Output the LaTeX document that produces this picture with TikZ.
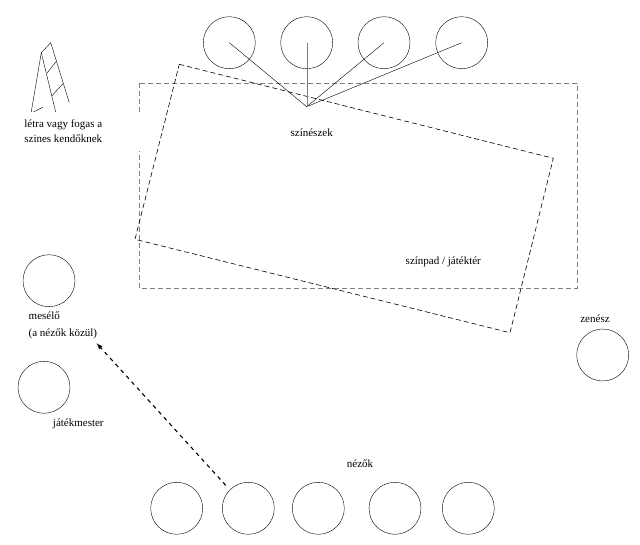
\documentclass[tikz,border=0pt]{standalone}
\usepackage{fontspec}
\setmainfont{Liberation Serif}
\begin{document}
\begin{tikzpicture}[x=1pt,y=-1pt,
  person/.style={draw,circle,minimum size=52pt,inner sep=0pt},
  lbl/.style={font=\rmfamily\fontsize{11}{15}\selectfont,inner sep=1pt}]
\useasboundingbox (0,0) rectangle (640,545);
% stage areas
\draw[gray,line width=0.6pt,dash pattern=on 5pt off 3pt] (139.3,83.3) rectangle (577.3,288.3);
\draw[line width=0.6pt,dash pattern=on 5pt off 3pt] (179.3,64.3) -- (553.3,158.3) -- (510,332.7) -- (135,239.3) -- cycle;
\node[lbl] (stage) at (443.3,261.7) {színpad / játéktér};
% actors
\node[person] (act1) at (229.3,42.7) {};
\node[person] (act2) at (306.7,42.7) {};
\node[person] (act3) at (384,42.7) {};
\node[person] (act4) at (461.7,42.7) {};
\coordinate (meet) at (306.7,106.7);
\draw (act1.center) -- (meet) -- (act3.center);
\draw (meet) -- (act4.center);
\draw[gray] (act2.center) -- (meet);
\node[lbl] (actors) at (311.7,132.7) {színészek};
% ladder
\draw (41.3,52.7) -- (50.7,42.7) -- (69.3,102.7);
\draw (41.3,52.7) -- (31,113.3) -- (42.7,107.3);
\draw (41.3,52.7) -- (56,113.3);
\draw (47.3,72.7) -- (56,61.7);
\draw (51.7,96) -- (63.3,83.3);
\node[lbl,fill=white,align=center,minimum width=156pt,minimum height=39pt] (ladder) at (63.3,131.5) {létra vagy fogas a\\szines kendőknek};
% left side
\node[person] (teller) at (49,280.7) {};
\node[lbl,align=left,anchor=north west] (tellerlbl) at (27.5,311) {mesélő\\[2pt](a nézők közül)};
\node[person] (master) at (44,387.3) {};
\node[lbl] (masterlbl) at (78.3,424) {játékmester};
% musician
\node[lbl] (muslbl) at (595,318.3) {zenész};
\node[person] (musician) at (602.7,355) {};
% audience
\node[person] (aud1) at (176.7,508.3) {};
\node[person] (aud2) at (248.3,508.3) {};
\node[person] (aud3) at (318.3,508.3) {};
\node[person] (aud4) at (395,508.3) {};
\node[person] (aud5) at (468.3,508.3) {};
\node[lbl] (audlbl) at (360,463.3) {nézők};
\coordinate (tip) at (96.7,343.3);
\draw[-latex,line width=1.1pt,dash pattern=on 4pt off 4pt,shorten <=6pt] (aud2.north west) -- (tip);
\end{tikzpicture}
\end{document}
